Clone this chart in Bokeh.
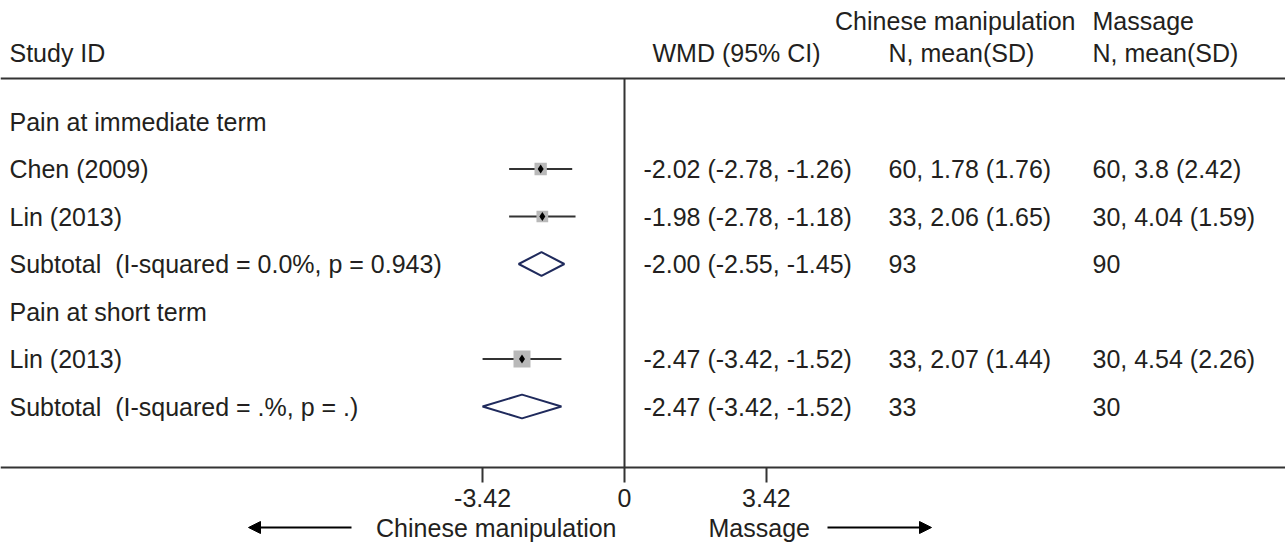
from bokeh.plotting import figure
from bokeh.models import (ColumnDataSource, Range1d, LinearAxis, FixedTicker,
                          CustomJSTickFormatter, Span, Arrow, NormalHead)
from bokeh.core.properties import value
from bokeh.embed import file_html
from bokeh.resources import INLINE
import math

# ---------------- data ----------------
row_labels = ["Pain at immediate term", "Chen (2009)", "Lin (2013)",
              "Subtotal\u00a0 (I-squared = 0.0%, p = 0.943)", "Pain at short term",
              "Lin (2013)", "Subtotal\u00a0 (I-squared = .%, p = .)"]
study_rows = [1, 2, 5]
study_wmd = [-2.02, -1.98, -2.47]
study_lo = [-2.78, -2.78, -3.42]
study_hi = [-1.26, -1.18, -1.52]
study_weight = [52.5, 47.5, 100.0]
cm_text = ["60, 1.78 (1.76)", "33, 2.06 (1.65)", "33, 2.07 (1.44)"]
ms_text = ["60, 3.8 (2.42)", "30, 4.04 (1.59)", "30, 4.54 (2.26)"]

sub_rows = [3, 6]
sub_wmd = [-2.00, -2.47]
sub_lo = [-2.55, -3.42]
sub_hi = [-1.45, -1.52]
sub_cm = ["93", "33"]
sub_ms = ["90", "30"]

tick_values = [-3.42, 0, 3.42]

# ---------------- layout constants ----------------
W, H = 1285, 544
PX_PER_UNIT = 41.5
ZERO_PX = 624           # x of the 0 line
ROW0_PX = 121           # y of row 0
ROW_PX = 47.5           # row spacing

def xd(px):  # px -> data x
    return (px - ZERO_PX) / PX_PER_UNIT

def yd(py):  # px -> row units
    return (py - ROW0_PX) / ROW_PX

FONT = value("Liberation Sans")
FS = "25px"
TXT = "#231f20"
LINE = "#333333"

p = figure(width=W, height=H, output_backend="svg", toolbar_location=None,
           x_range=Range1d(xd(0), xd(W)), y_range=Range1d(yd(H), yd(0)),
           x_axis_location=None, y_axis_location=None, min_border=0,
           outline_line_color=None, background_fill_color="white")
for g in p.grid:
    g.visible = False

# top border line and zero line
top_y = yd(78)
bot_y = yd(467)
p.add_layout(Span(location=top_y, dimension="width", line_color=LINE, line_width=2))
p.segment(x0=[0], y0=[top_y], x1=[0], y1=[bot_y], line_color=LINE, line_width=2)

# bottom axis
ax = LinearAxis(fixed_location=bot_y, ticker=FixedTicker(ticks=tick_values),
                formatter=CustomJSTickFormatter(code="return (Math.round(tick*100)/100).toString();"))
ax.axis_line_color = LINE
ax.axis_line_width = 2
ax.major_tick_line_color = LINE
ax.major_tick_line_width = 2
ax.major_tick_out = 15
ax.major_tick_in = 0
ax.minor_tick_line_color = None
ax.major_label_text_font = "Liberation Sans"
ax.major_label_text_font_size = FS
ax.major_label_text_color = TXT
ax.major_label_standoff = 6
p.add_layout(ax, "below")

# study CIs, weight boxes, point estimates
box_sizes = [17 * math.sqrt(w / 100.0) for w in study_weight]
src = ColumnDataSource(dict(y=study_rows, est=study_wmd, lo=study_lo, hi=study_hi, size=box_sizes))
p.segment(x0="lo", y0="y", x1="hi", y1="y", source=src, line_color=LINE, line_width=2)
p.scatter(x="est", y="y", size="size", marker="square", source=src,
          fill_color="#b9b9b9", line_color=None)
p.scatter(x="est", y="y", size=9, marker="diamond", source=src,
          fill_color="black", line_color=None)

# subtotal diamonds
dh = 0.25
xs = [[lo, e, hi, e] for lo, e, hi in zip(sub_lo, sub_wmd, sub_hi)]
ys = [[r, r - dh, r, r + dh] for r in sub_rows]
p.patches(xs=xs, ys=ys, fill_color="white", line_color="#1f2a5c", line_width=2)

# text columns
col_study = xd(9)
col_wmd = xd(643)
col_cm = xd(888)
col_ms = xd(1092)

def txt(x, y, t, align="left"):
    p.text(x=x, y=y, text=t, text_font=FONT, text_font_size=FS, text_color=TXT,
           text_baseline="middle", text_align=align)

txt([col_study] * len(row_labels), list(range(len(row_labels))), row_labels)

wmd_rows = study_rows + sub_rows
wmd_strs = [f"{e:.2f} ({l:.2f}, {h:.2f})" for e, l, h in
            zip(study_wmd + sub_wmd, study_lo + sub_lo, study_hi + sub_hi)]
txt([col_wmd] * len(wmd_rows), wmd_rows, wmd_strs)
txt([col_cm] * len(wmd_rows), wmd_rows, cm_text + sub_cm)
txt([col_ms] * len(wmd_rows), wmd_rows, ms_text + sub_ms)

# headers
h2 = yd(52)
h1 = yd(20)
txt([col_study, xd(652), col_cm, col_ms], [h2] * 4,
    ["Study ID", "WMD (95% CI)", "N, mean(SD)", "N, mean(SD)"])
txt([xd(1075)], [h1], ["Chinese manipulation"], align="right")
txt([col_ms], [h1], ["Massage"])

# direction labels and arrows
ay = yd(527)
txt([xd(616)], [ay], ["Chinese manipulation"], align="right")
txt([xd(708)], [ay], ["Massage"])
p.add_layout(Arrow(end=NormalHead(size=12, fill_color="black", line_color="black"),
                   x_start=xd(351), y_start=ay, x_end=xd(248), y_end=ay,
                   line_color="black", line_width=2))
p.add_layout(Arrow(end=NormalHead(size=12, fill_color="black", line_color="black"),
                   x_start=xd(827), y_start=ay, x_end=xd(931), y_end=ay,
                   line_color="black", line_width=2))

open("out.html", "w").write(file_html(p, INLINE))
